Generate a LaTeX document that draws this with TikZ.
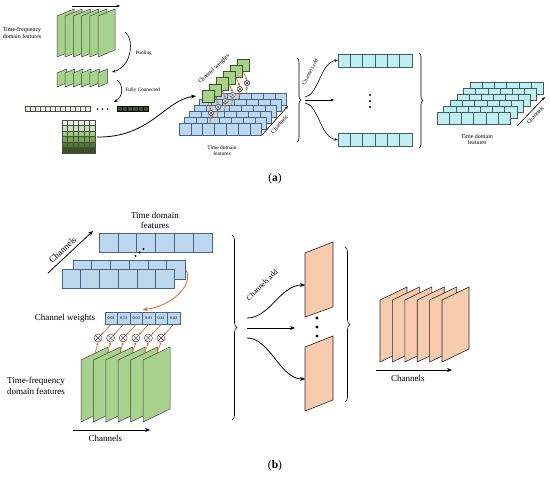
\documentclass[tikz,border=0pt]{standalone}
\usepackage{fontspec}
\setmainfont{Liberation Serif}
\usetikzlibrary{arrows.meta,calc,decorations.pathreplacing,positioning}
\definecolor{slicegreen}{RGB}{169,209,142}
\definecolor{fcgreen}{RGB}{56,87,35}
\definecolor{fcpale}{RGB}{236,244,230}
\definecolor{gridA}{RGB}{236,245,229}
\definecolor{gridB}{RGB}{200,226,183}
\definecolor{gridC}{RGB}{160,204,130}
\definecolor{gridD}{RGB}{112,168,74}
\definecolor{gridE}{RGB}{78,122,48}
\definecolor{gridF}{RGB}{52,80,32}
\definecolor{featblue}{RGB}{189,215,238}
\definecolor{featline}{RGB}{70,100,135}
\definecolor{addcyan}{RGB}{193,238,241}
\definecolor{addline}{RGB}{60,95,105}
\definecolor{mappeach}{RGB}{248,203,173}
\definecolor{weightorange}{RGB}{214,105,35}
\tikzset{
  flow/.style={-{Stealth[length=5pt,width=4pt]}, line width=0.8pt},
  smallflow/.style={-{Stealth[length=3.5pt,width=2.8pt]}, line width=0.6pt},
  weightflow/.style={-{Stealth[length=2.8pt,width=2.4pt]}, draw=weightorange,
                     line width=0.6pt},
  slice/.style={draw=black!75, line width=0.5pt, fill=slicegreen},
  panel/.style={draw=black!85, line width=0.6pt, fill=mappeach},
  bluecell/.style={draw=featline, line width=0.5pt, fill=featblue},
  cyanfill/.style={draw=addline, line width=0.5pt, fill=addcyan},
  cyancell/.style={cyanfill, minimum width=12.3pt, minimum height=13pt,
                   inner sep=0pt, outer sep=0pt},
  wsquare/.style={draw=fcgreen, line width=0.5pt, fill=slicegreen,
                  minimum size=12.5pt, inner sep=0pt},
  wcell/.style={draw=featline, line width=0.5pt, fill=featblue,
                minimum width=12.5pt, minimum height=12pt, inner sep=0pt,
                font=\fontsize{4.1}{4.4}\selectfont},
  mult/.style={circle, draw=black!80, fill=white, line width=0.4pt, inner sep=0pt,
    path picture={\draw[black!80, line width=0.4pt]
      (path picture bounding box.north west) -- (path picture bounding box.south east)
      (path picture bounding box.north east) -- (path picture bounding box.south west);}},
  tinylab/.style={font=\fontsize{5.2}{5.8}\selectfont, align=center},
  lab/.style={font=\fontsize{9}{10.6}\selectfont, align=center},
  caption/.style={font=\fontsize{11.5}{13}\selectfont},
  bigbrace/.style={decorate, decoration={brace, amplitude=#1}, line width=0.6pt},
}

\begin{document}
\begin{tikzpicture}[x=1pt,y=-1pt]
  \path[use as bounding box] (0,0) rectangle (550,484);

  % (a) Time-frequency features, pooling and fully connected layers.
  \coordinate (chana) at (72,6);
  \coordinate (chanb) at (120,6);
  \draw[smallflow] (chana) -- (chanb);
  \foreach \i in {0,...,5}
    \draw[slice] ({57+8.2*\i},57) -- ++(0,-41) -- ++(17,-7) -- ++(0,41) -- cycle;
  \node[tinylab, font=\fontsize{6}{6.6}\selectfont] (tfa) at (22,33)
    {Time-frequency\\domain features};

  \coordinate (poola) at (125,32);
  \coordinate (poolb) at (112,72);
  \draw[smallflow] (poola) .. controls (134,38) and (133,66) .. (poolb);
  \node[tinylab, anchor=west] (pool) at (132,53) {Pooling};

  \foreach \i in {0,...,5}
    \draw[slice] ({57+8.2*\i},87) -- ++(0,-14) -- ++(9.5,-4) -- ++(0,14) -- cycle;

  \coordinate (fca) at (117,80);
  \coordinate (fcb) at (114,102);
  \draw[smallflow] (fca) .. controls (124,85) and (123,97) .. (fcb);
  \node[tinylab, anchor=west] (fc) at (122,90) {Fully Connected};

  \foreach \c in {0,...,12}
    \draw[draw=black!70, line width=0.4pt, fill=fcpale] ({25+5*\c},106) rectangle ++(5,5.5);
  \foreach \xx in {97.5,102.5,107.5}
    \fill (\xx,109) circle (0.9);
  \foreach \c in {0,...,5}
    \draw[draw=black, line width=0.4pt, fill=fcgreen] ({117+5.2*\c},106) rectangle ++(5.2,5.5);

  \foreach \col [count=\r from 0] in {gridA,gridB,gridC,gridD,gridE,gridF}
    \foreach \c in {0,...,5}
      \draw[draw=black!70, line width=0.4pt, fill=\col]
        ({62+5.5*\c},{120+5.5*\r}) rectangle ++(5.5,5.5);
  \coordinate (gridout) at (97,137);

  % (a) Channel weights applied to the time domain features.
  \foreach \k in {5,4,...,0}
    \foreach \c in {0,...,6}
      \draw[bluecell] ({179+5*\k+11.8*\c},{123-6*\k}) rectangle ++(11.8,12);
  \foreach \i in {5,4,...,0}
    \node[wsquare] (sq\i) at ({208.25+7*\i},{96.25-6.2*\i}) {};
  \foreach \i in {0,...,5}{
    \node[mult, minimum size=5.5pt] (ma\i) at ({211+7.2*\i},{113-6*\i}) {};
    \draw[weightflow] (sq\i.south) -- (ma\i.north);
    \draw[weightflow] ($(ma\i.south)+(-1,7)$) -- (ma\i.south);
  }
  \coordinate (cwin) at (196,96);
  \draw[flow] (gridout) .. controls (150,138) and (165,100) .. (cwin);
  \node[tinylab, font=\fontsize{6}{6.6}\selectfont, rotate=43] (cwa) at (214,69)
    {Channel weights};
  \node[tinylab, font=\fontsize{5.5}{6.2}\selectfont] (tda) at (222,151)
    {Time domain\\features};
  \coordinate (cha1) at (262,135);
  \coordinate (cha2) at (288,106);
  \draw[smallflow] (cha1) -- (cha2)
    node[tinylab, font=\fontsize{6}{6.6}\selectfont, midway, sloped, below=0pt] (chal) {Channels};

  % (a) Channels add.
  \draw[bigbrace=4pt] (297,58) -- (297,142);
  \coordinate (bta) at (303,100);
  \foreach \c in {0,...,5}{
    \node[cyancell] (ct\c) at ({344.15+12.3*\c},60.5) {};
    \node[cyancell] (cb\c) at ({344.15+12.3*\c},139.5) {};
  }
  \coordinate (ctm) at (334,100);
  \draw[smallflow] ($(bta)+(2,-3)$) .. controls (318,96) and (321,61) .. (ct0.west);
  \draw[smallflow] ($(bta)+(2,0)$) -- (ctm);
  \draw[smallflow] ($(bta)+(2,3)$) .. controls (318,104) and (321,139) .. (cb0.west);
  \node[tinylab, rotate=62] (adda) at (310,72) {Channels add};
  \foreach \yy in {95,101,107}
    \fill (370,\yy) circle (1.1);
  \draw[bigbrace=4pt] (419,53) -- (419,148);

  \foreach \k in {5,4,...,0}
    \foreach \c in {0,...,5}
      \draw[cyanfill] ({437+6.6*\k+12.2*\c},{112-6*\k}) rectangle ++(12.2,12);
  \coordinate (chr1) at (517,126);
  \coordinate (chr2) at (545,97);
  \draw[smallflow] (chr1) -- (chr2)
    node[tinylab, font=\fontsize{6}{6.6}\selectfont, midway, sloped, below=0pt] (chrl) {Channels};
  \node[tinylab, font=\fontsize{6}{6.6}\selectfont] (tdr) at (477,139.5)
    {Time domain\\features};
  \node[caption] (capa) at (275,179) {(\textbf{a})};

  % (b) Time domain features and the channel weights.
  \node[lab] (tdb) at (155,220.5) {Time domain\\features};
  \foreach \c in {0,...,5}
    \draw[bluecell] ({99+18.8*\c},233) rectangle ++(18.8,19);
  \foreach \xx/\yy in {135.5/256,139.5/252.5,143.5/249}
    \fill (\xx,\yy) circle (1.2);
  \foreach \c in {0,...,5}
    \draw[bluecell] ({73+18.7*\c},260) rectangle ++(18.7,19);
  \foreach \c in {0,...,5}
    \draw[bluecell] ({62+18.7*\c},269) rectangle ++(18.7,19);
  \coordinate (chb1) at (48,273);
  \coordinate (chb2) at (93,231);
  \draw[flow] (chb1) -- (chb2) node[lab, pos=0.43, sloped, above=0pt] (chbl) {Channels};

  \coordinate (midrow) at (186,270);
  \node[lab] (cwb) at (65,318) {Channel weights};
  \foreach \v [count=\i from 0] in {0.01,0.52,0.03,0.01,0.41,0.02}
    \node[wcell] (w\i) at ({111.25+12.5*\i},318) {\v};
  \draw[weightflow, line width=0.8pt, -{Stealth[length=5pt,width=4pt]}]
    (midrow) .. controls (194,285) and (172,306) .. ([yshift=2pt]w2.north east);

  \foreach \i in {0,...,5}
    \draw[slice] ({81+12.4*\i},422) -- ++(0,-62) -- ++(27,-13) -- ++(0,62) -- cycle;
  \foreach \i in {0,...,5}{
    \node[mult, minimum size=8pt] (m\i) at ({98+12.6*\i},338) {};
    \coordinate (s\i) at ({95+12.4*\i},353.3);
    \draw[weightflow] (w\i.south) -- (m\i.north east);
    \draw[weightflow] (s\i) -- (m\i.south);
  }
  \node[lab] (tfb) at (36,386) {Time-frequency\\domain features};
  \coordinate (chc1) at (73,430);
  \coordinate (chc2) at (150,430);
  \draw[flow] (chc1) -- (chc2) node[lab, pos=0.42, below=2pt] (chcl) {Channels};

  % (b) Channels add.
  \draw[bigbrace=5pt] (232,235) -- (232,420);
  \coordinate (btb) at (240,327);
  \draw[panel] (305,317) -- (305,253) -- (333,242) -- (333,307) -- cycle;
  \draw[panel] (305,411) -- (305,347) -- (333,336) -- (333,400) -- cycle;
  \coordinate (pt) at (305,285);
  \coordinate (pm) at (295,328);
  \coordinate (pb) at (305,379);
  \draw[flow] ($(btb)+(7,-9)$) .. controls (270,318) and (280,285) .. (pt);
  \draw[flow] ($(btb)+(7,1)$) -- (pm);
  \draw[flow] ($(btb)+(7,11)$) .. controls (270,338) and (280,379) .. (pb);
  \node[lab, font=\fontsize{7.5}{8}\selectfont, rotate=45] (addb) at (262,285) {Channels add};
  \foreach \yy in {318,327,336}
    \fill (317,\yy) circle (1.6);
  \draw[bigbrace=5pt] (345,247) -- (345,402);

  \foreach \i in {0,...,5}
    \draw[panel] ({380+12.4*\i},362) -- ++(0,-62) -- ++(27,-13) -- ++(0,62) -- cycle;
  \coordinate (chd1) at (376,370);
  \coordinate (chd2) at (452,370);
  \draw[flow] (chd1) -- (chd2) node[lab, pos=0.42, below=2pt] (chdl) {Channels};
  \node[caption] (capb) at (275,466) {(\textbf{b})};
\end{tikzpicture}
\end{document}
